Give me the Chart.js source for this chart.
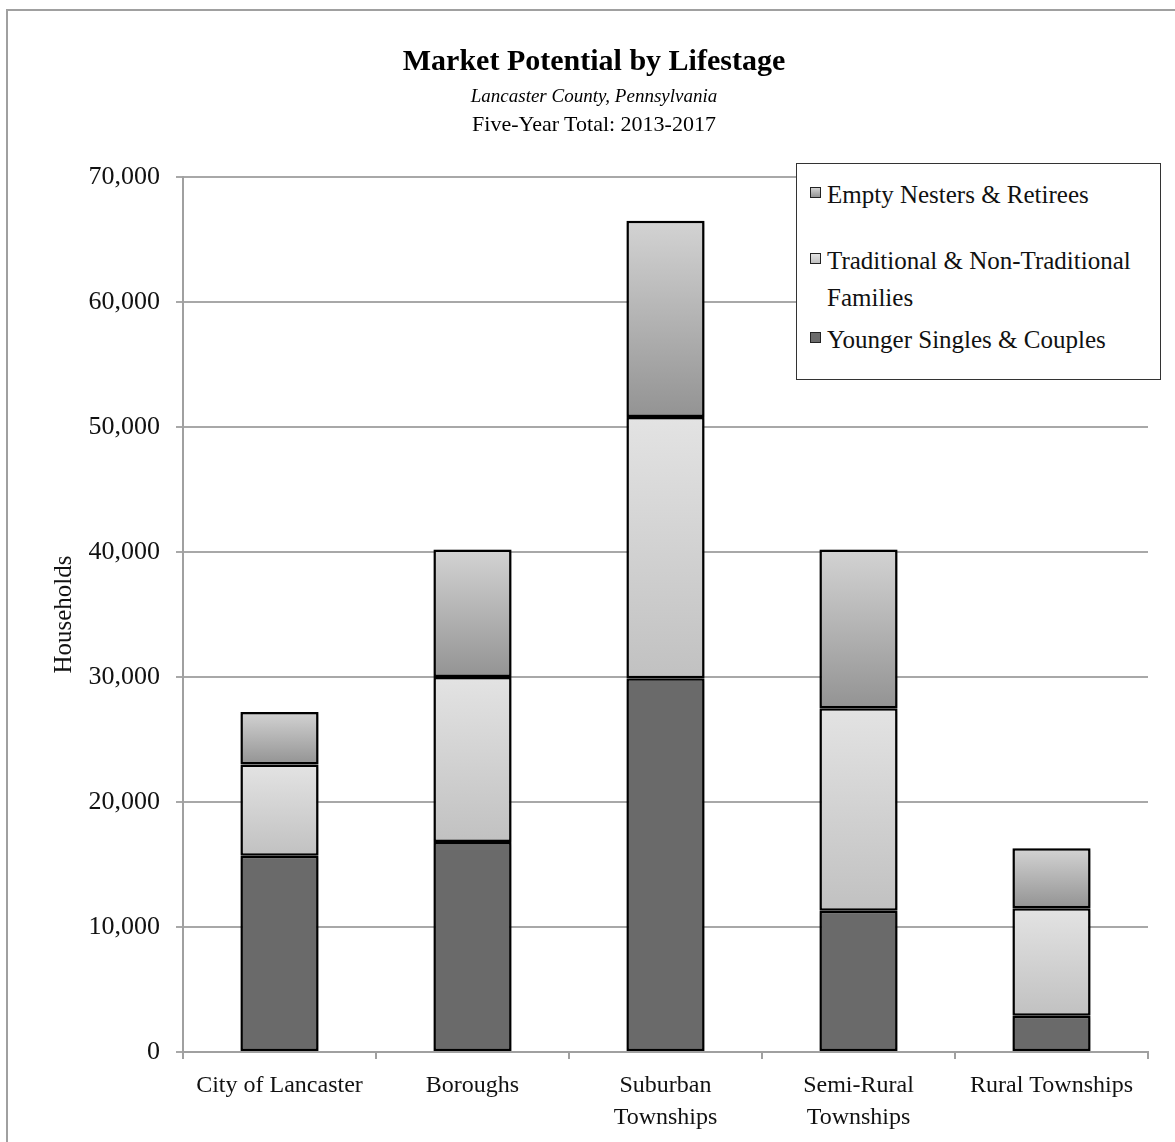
<!DOCTYPE html>
<html>
<head>
    <title>Market Potential by Lifestage</title>
    <script src="https://cdn.jsdelivr.net/npm/chart.js"></script>
    <style>
        body {
            margin: 0;
            width: 1175px;
            height: 1142px;
            overflow: hidden;
            background: #fff;
            font-family: "Liberation Serif", "DejaVu Serif", serif;
            position: relative;
        }
        .frame {
            position: absolute;
            left: 6px;
            top: 9px;
            width: 1250px;
            height: 1250px;
            border: 2px solid #a0a0a0;
        }
        #chart {
            position: absolute;
            left: 0;
            top: 0;
        }
        .titles {
            position: absolute;
            left: 0;
            width: 1188px;
            text-align: center;
            color: #000;
        }
        .t1 { top: 43px; font-size: 30px; font-weight: bold; }
        .t2 { top: 85px; font-size: 19px; font-style: italic; }
        .t3 { top: 111px; font-size: 22px; }
        .legend {
            position: absolute;
            left: 796px;
            top: 163px;
            width: 365px;
            height: 217px;
            border: 1.5px solid #333;
            background: #fff;
            box-sizing: border-box;
            font-size: 25px;
            color: #111;
        }
        .legend .item {
            position: absolute;
            left: 30px;
            line-height: 37px;
        }
        .legend .box {
            position: absolute;
            left: -17px;
            top: 11px;
            width: 9px;
            height: 9px;
            border: 1.5px solid #222;
        }
    </style>
</head>
<body>
    <div class="frame"></div>
    <canvas id="chart" width="1175" height="1142"></canvas>
    <div class="titles t1">Market Potential by Lifestage</div>
    <div class="titles t2">Lancaster County, Pennsylvania</div>
    <div class="titles t3">Five-Year Total: 2013-2017</div>
    <div class="legend" id="legend"></div>

<script>
// household counts per area, five-year total
const categories = [
    'City of Lancaster',
    'Boroughs',
    ['Suburban', 'Townships'],
    ['Semi-Rural', 'Townships'],
    'Rural Townships'
];
const youngerSingles = [15700, 16800, 29900, 11300, 2900];
const traditionalFamilies = [7300, 13200, 20900, 16200, 8600];
const emptyNesters = [4200, 10200, 15700, 12700, 4800];
const yTicks = [0, 10000, 20000, 30000, 40000, 50000, 60000, 70000];

// each segment gets its own vertical gradient (top colour, bottom colour)
const fills = {
    younger: ['#6a6a6a', '#6a6a6a'],
    traditional: ['#e3e3e3', '#c1c1c1'],
    empty: ['#d3d3d3', '#939393']
};

// gradient spanning one stacked segment, from its bottom to its top value
function segmentFill(c) {
    const chart = c.chart;
    const stops = chart.data.datasets[c.datasetIndex].shade;
    const y = chart.scales.y;
    if (!y || c.type !== 'data') return stops[1];
    let lo = 0;
    for (let i = 0; i < c.datasetIndex; i++) lo += chart.data.datasets[i].data[c.dataIndex];
    const hi = lo + chart.data.datasets[c.datasetIndex].data[c.dataIndex];
    const top = y.getPixelForValue(hi);
    const bottom = y.getPixelForValue(lo);
    if (!isFinite(top) || !isFinite(bottom)) return stops[1];
    const g = chart.ctx.createLinearGradient(0, top, 0, bottom);
    g.addColorStop(0, stops[0]);
    g.addColorStop(1, stops[1]);
    return g;
}

// soft drop shadow under the bars
const barShadow = {
    id: 'barShadow',
    beforeDatasetsDraw(chart) {
        const ctx = chart.ctx;
        ctx.save();
        ctx.shadowColor = 'rgba(0,0,0,0.3)';
        ctx.shadowBlur = 4;
        ctx.shadowOffsetX = 1;
        ctx.shadowOffsetY = 1;
    },
    afterDatasetsDraw(chart) {
        chart.ctx.restore();
    }
};

const datasets = [
    { label: 'Younger Singles & Couples', data: youngerSingles, shade: fills.younger },
    { label: 'Traditional & Non-Traditional Families', data: traditionalFamilies, shade: fills.traditional },
    { label: 'Empty Nesters & Retirees', data: emptyNesters, shade: fills.empty }
].map(d => Object.assign(d, {
    backgroundColor: segmentFill,
    borderColor: '#000',
    borderWidth: 2.5,
    borderSkipped: false,
    categoryPercentage: 1,
    barPercentage: 0.405
}));

const serif = '"Liberation Serif", "DejaVu Serif", serif';

new Chart(document.getElementById('chart'), {
    type: 'bar',
    data: { labels: categories, datasets: datasets },
    options: {
        responsive: false,
        animation: false,
        layout: { padding: { left: 0, top: 177, right: 27, bottom: 0 } },
        plugins: {
            legend: { display: false },
            tooltip: { enabled: false }
        },
        scales: {
            x: {
                stacked: true,
                afterFit: s => { s.height = 90; },
                grid: {
                    offset: true,
                    drawOnChartArea: false,
                    color: '#a0a0a0',
                    lineWidth: 2,
                    tickLength: 7
                },
                border: { color: '#a0a0a0', width: 2 },
                ticks: {
                    color: '#111',
                    padding: 11,
                    maxRotation: 0,
                    autoSkip: false,
                    font: { family: serif, size: 24, lineHeight: 1.33 }
                }
            },
            y: {
                stacked: true,
                min: 0,
                max: 70000,
                afterFit: s => { s.width = 183; },
                afterBuildTicks: s => { s.ticks = yTicks.map(v => ({ value: v })); },
                grid: {
                    color: '#a8a8a8',
                    lineWidth: 2,
                    tickLength: 7
                },
                border: { color: '#a0a0a0', width: 2 },
                ticks: {
                    color: '#111',
                    padding: 16,
                    font: { family: serif, size: 26 },
                    callback: v => v.toLocaleString('en-US')
                },
                title: {
                    display: true,
                    text: 'Households',
                    color: '#111',
                    padding: { top: 49, bottom: 0 },
                    font: { family: serif, size: 25 }
                }
            }
        }
    },
    plugins: [barShadow]
});

// legend, top series first
const legend = document.getElementById('legend');
const rows = [
    { ds: datasets[2], top: 12 },
    { ds: datasets[1], top: 78, text: 'Traditional & Non-Traditional<br>Families' },
    { ds: datasets[0], top: 157 }
];
rows.forEach(r => {
    const item = document.createElement('div');
    item.className = 'item';
    item.style.top = r.top + 'px';
    item.innerHTML = '<span class="box" style="background:linear-gradient(' +
        r.ds.shade[0] + ',' + r.ds.shade[1] + ')"></span>' + (r.text || r.ds.label);
    legend.appendChild(item);
});
</script>
</body>
</html>
